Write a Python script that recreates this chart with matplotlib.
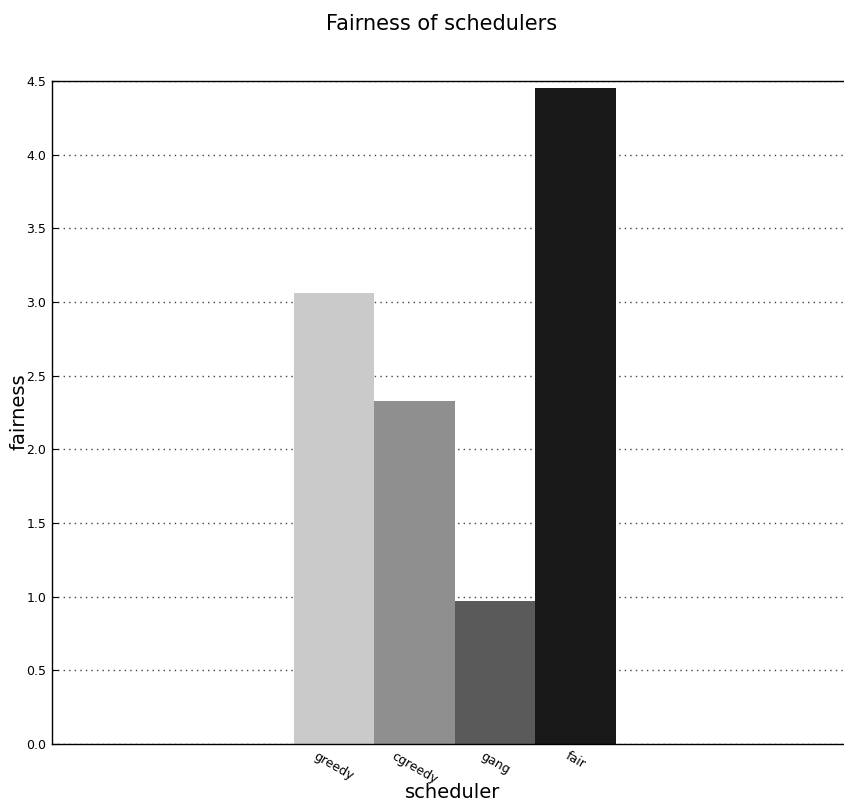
import matplotlib
matplotlib.use("Agg")
import matplotlib.pyplot as plt

schedulers = ["greedy", "cgreedy", "gang", "fair"]
fairness = [3.06, 2.33, 0.97, 4.45]
colors = ["#cacaca", "#8f8f8f", "#5a5a5a", "#181818"]
yticks = [0.0, 0.5, 1.0, 1.5, 2.0, 2.5, 3.0, 3.5, 4.0, 4.5]

W, H = 845, 802
fig = plt.figure(figsize=(W / 100, H / 100), dpi=100)
ax = fig.add_axes([52 / W, 1 - 744 / H, 805 / W, (744 - 81) / H])

pos = list(range(len(schedulers)))
ax.bar(pos, fairness, width=1.0, color=colors, edgecolor="none", align="center", zorder=2)

ax.set_xlim(-3.5, 6.5)
ax.set_ylim(0, 4.5)
ax.set_yticks(yticks)
ax.set_yticklabels([f"{v:.1f}" for v in yticks], fontsize=9)
ax.set_xticks(pos)
ax.set_xticklabels(schedulers, rotation=-30, ha="center", va="top", fontsize=9)
ax.tick_params(axis="both", direction="in", length=4, width=0.8, pad=4)
ax.tick_params(axis="y", right=False)
ax.tick_params(axis="x", top=False)

ax.yaxis.grid(True, linestyle=(0, (1, 3)), color="#444444", linewidth=1.0, zorder=1)
ax.set_axisbelow(True)
ax.spines["right"].set_visible(False)
for s in ["left", "bottom", "top"]:
    ax.spines[s].set_linewidth(1.0)
    ax.spines[s].set_color("black")

fig.text(453 / W, 1 - 793 / H, "scheduler", ha="center", va="center", fontsize=14)
fig.text(19 / W, 1 - 412 / H, "fairness", ha="center", va="center", rotation=90, fontsize=14)
fig.text(442 / W, 1 - 24 / H, "Fairness of schedulers", ha="center", va="center", fontsize=15)

fig.savefig("out.png", dpi=100)
